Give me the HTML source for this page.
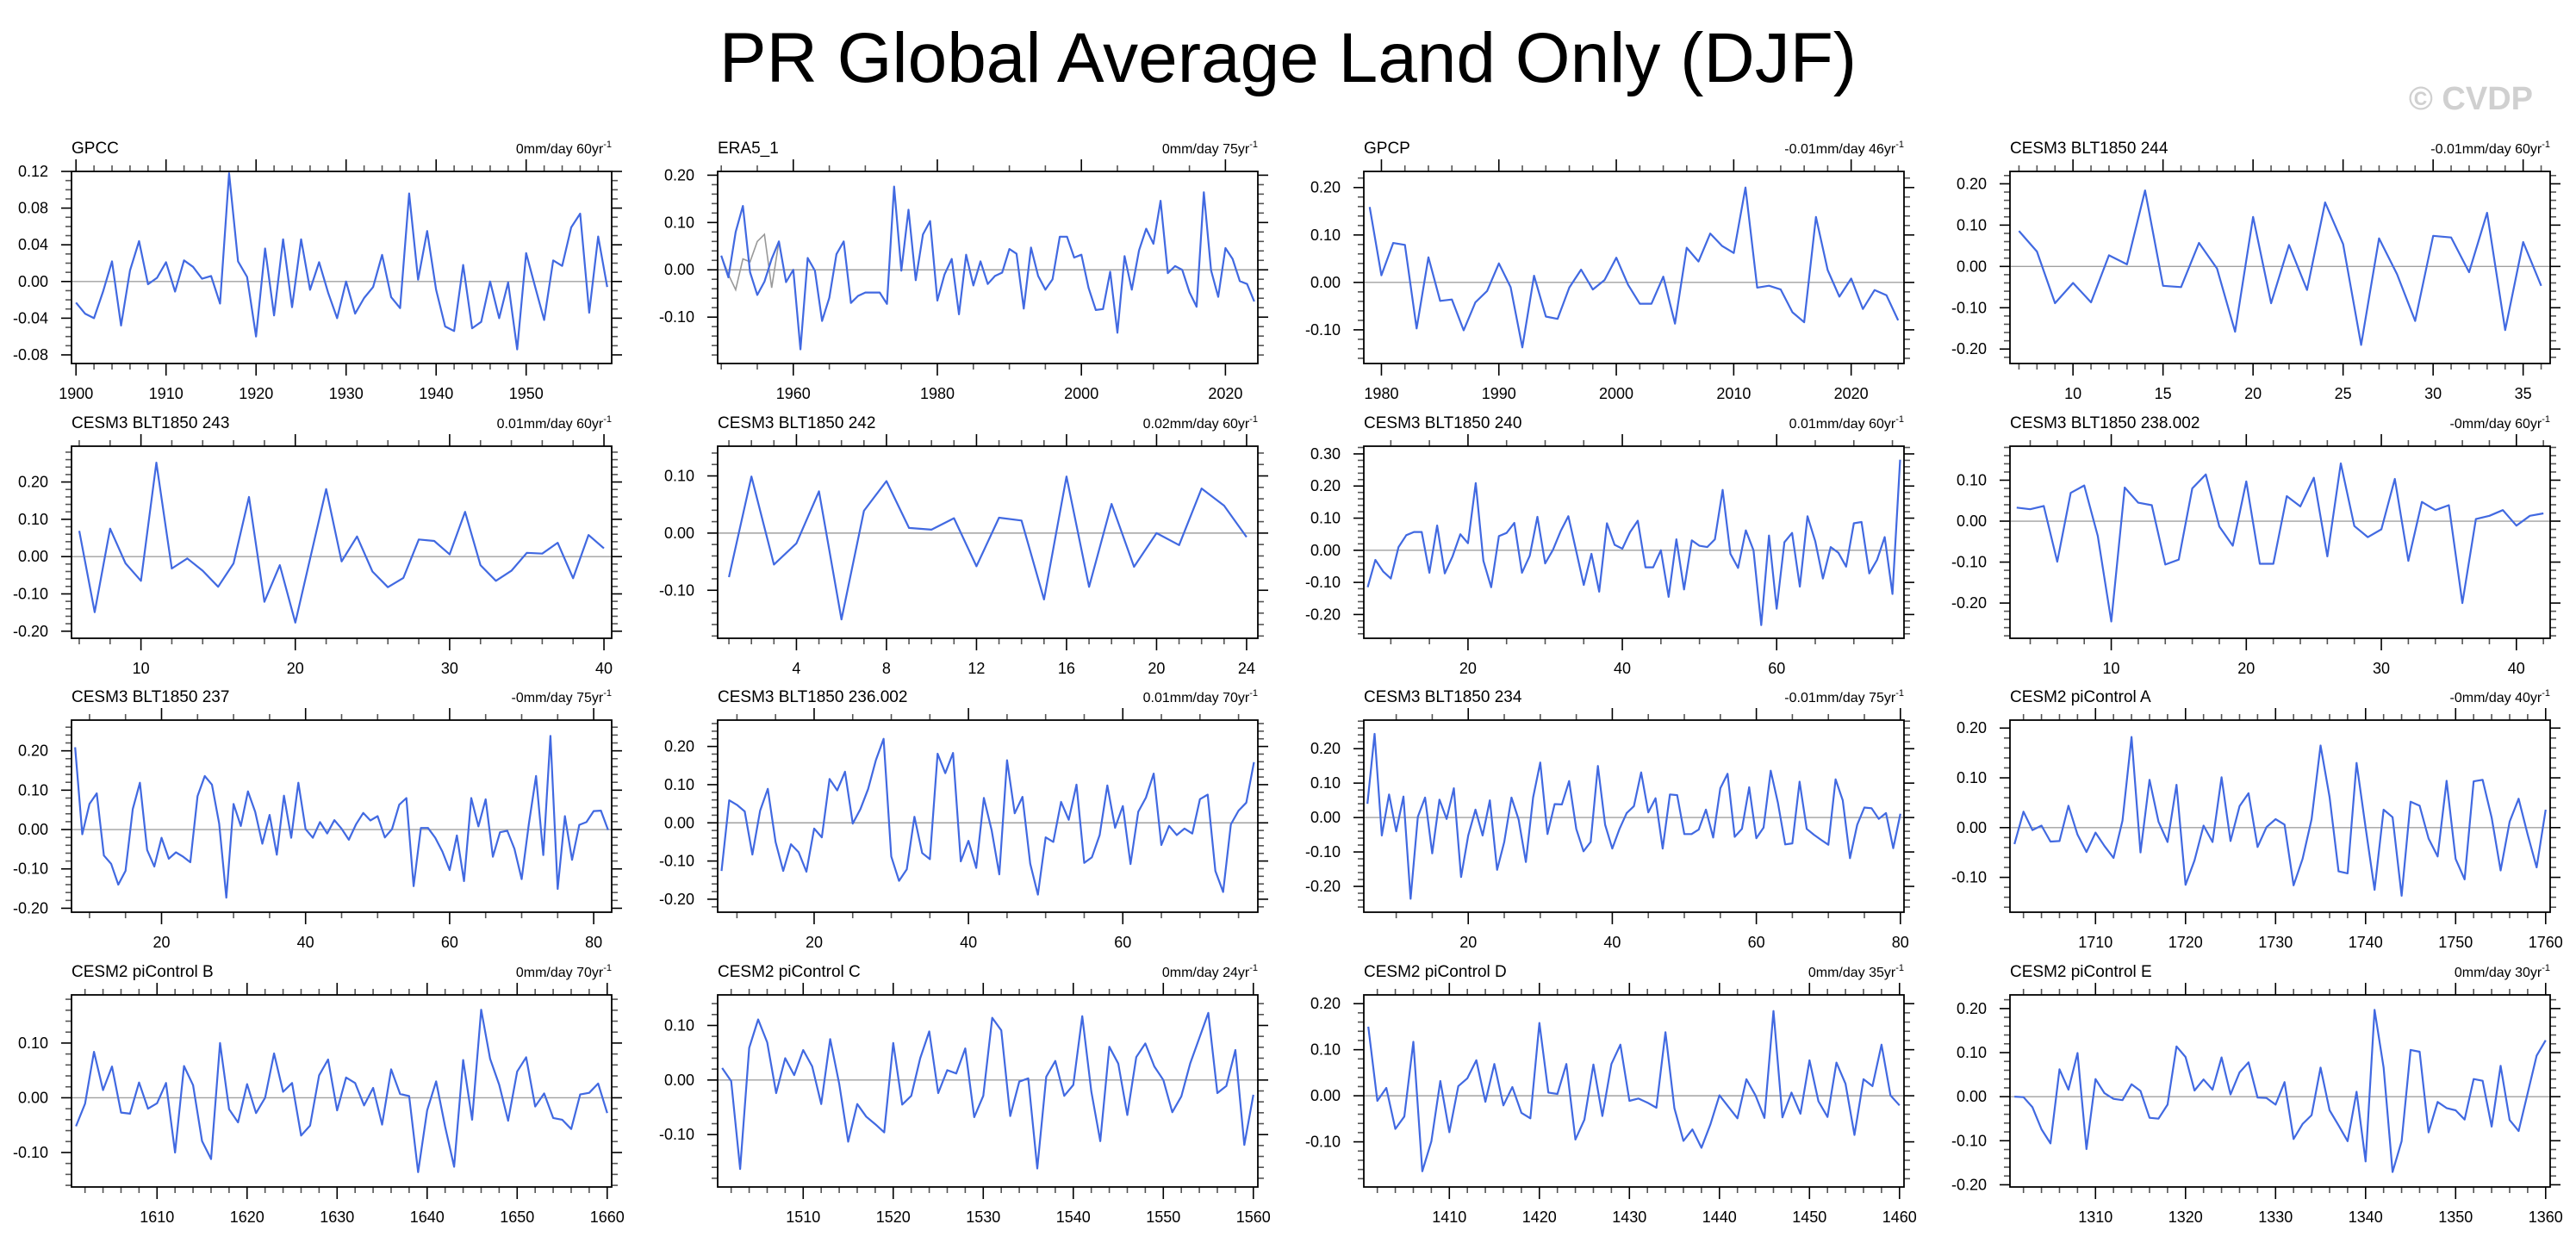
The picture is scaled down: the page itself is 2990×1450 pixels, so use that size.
<!DOCTYPE html>
<html><head><meta charset="utf-8">
<style>
html,body{margin:0;padding:0;background:#fff;}
svg{display:block;font-family:"Liberation Sans",Arial,sans-serif;}
</style></head>
<body>
<svg id="chart" width="2990" height="1450" viewBox="0 0 2990 1450" xmlns="http://www.w3.org/2000/svg">
<rect x="0" y="0" width="2990" height="1450" fill="#fff"/>
<text x="1495" y="95" text-anchor="middle" font-size="82" fill="#000">PR Global Average Land Only (DJF)</text>
<text x="2940" y="127" text-anchor="end" font-size="38" font-weight="bold" fill="#d0d0d0">© CVDP</text>
<g id="panels"></g>
</svg>
<script>
const panelTitles = ["GPCC","ERA5_1","GPCP","CESM3 BLT1850 244","CESM3 BLT1850 243","CESM3 BLT1850 242","CESM3 BLT1850 240","CESM3 BLT1850 238.002","CESM3 BLT1850 237","CESM3 BLT1850 236.002","CESM3 BLT1850 234","CESM2 piControl A","CESM2 piControl B","CESM2 piControl C","CESM2 piControl D","CESM2 piControl E"];
const panelTrends = ["0mm/day 60yr","0mm/day 75yr","-0.01mm/day 46yr","-0.01mm/day 60yr","0.01mm/day 60yr","0.02mm/day 60yr","0.01mm/day 60yr","-0mm/day 60yr","-0mm/day 75yr","0.01mm/day 70yr","-0.01mm/day 75yr","-0mm/day 40yr","0mm/day 70yr","0mm/day 24yr","0mm/day 35yr","0mm/day 30yr"];
const startYears = [1900,1950,1979,7,6,1,7,3,8,8,6,1701,1601,1501,1401,1301];

const gpccValues = [-0.023,-0.035,-0.040,-0.011,0.022,-0.048,0.012,0.044,-0.003,0.004,0.021,-0.011,0.023,0.016,0.003,0.006,-0.024,0.118,0.022,0.005,-0.060,0.036,-0.037,0.046,-0.028,0.046,-0.009,0.021,-0.012,-0.040,0.000,-0.035,-0.018,-0.006,0.029,-0.017,-0.029,0.096,0.002,0.055,-0.009,-0.049,-0.054,0.018,-0.051,-0.044,0.000,-0.040,-0.001,-0.074,0.031,-0.006,-0.042,0.023,0.017,0.059,0.074,-0.034,0.049,-0.006];
const era5Values = [0.03,-0.016,0.08,0.135,-0.005,-0.053,-0.025,0.023,0.06,-0.026,0.0,-0.168,0.025,-0.002,-0.108,-0.059,0.033,0.06,-0.07,-0.055,-0.048,-0.048,-0.048,-0.072,0.176,-0.002,0.127,-0.022,0.075,0.103,-0.065,-0.01,0.023,-0.094,0.032,-0.033,0.018,-0.03,-0.013,-0.006,0.044,0.034,-0.082,0.047,-0.013,-0.042,-0.02,0.07,0.07,0.026,0.032,-0.038,-0.085,-0.083,-0.004,-0.133,0.029,-0.042,0.041,0.087,0.055,0.146,-0.007,0.008,0.0,-0.047,-0.078,0.164,-0.001,-0.057,0.046,0.023,-0.024,-0.03,-0.067];
const era5GrayValues = [0.03,-0.01,-0.042,0.023,0.017,0.06,0.075,-0.038,0.06];
const gpcpValues = [0.159,0.015,0.083,0.079,-0.097,0.053,-0.039,-0.036,-0.101,-0.042,-0.018,0.04,-0.01,-0.137,0.014,-0.072,-0.077,-0.011,0.027,-0.015,0.005,0.052,-0.005,-0.045,-0.045,0.012,-0.087,0.073,0.044,0.103,0.077,0.062,0.2,-0.011,-0.007,-0.015,-0.063,-0.084,0.138,0.026,-0.03,0.008,-0.056,-0.016,-0.027,-0.08];
const cesm3_244Values = [0.086,0.036,-0.089,-0.04,-0.087,0.027,0.005,0.184,-0.047,-0.05,0.057,-0.005,-0.158,0.12,-0.089,0.052,-0.057,0.155,0.054,-0.19,0.068,-0.019,-0.132,0.074,0.07,-0.014,0.13,-0.154,0.059,-0.047];
const cesm3_243Values = [0.069,-0.149,0.075,-0.018,-0.065,0.252,-0.032,-0.005,-0.038,-0.081,-0.018,0.16,-0.121,-0.023,-0.177,0.002,0.181,-0.013,0.054,-0.04,-0.082,-0.057,0.046,0.042,0.006,0.12,-0.023,-0.065,-0.038,0.01,0.008,0.037,-0.058,0.058,0.022];
const cesm3_242Values = [-0.077,0.099,-0.055,-0.018,0.073,-0.151,0.039,0.091,0.009,0.006,0.026,-0.058,0.027,0.022,-0.116,0.099,-0.094,0.051,-0.059,0.0,-0.021,0.078,0.048,-0.007];
const cesm3_240Values = [-0.115,-0.03,-0.066,-0.088,0.01,0.047,0.057,0.057,-0.07,0.077,-0.072,-0.019,0.05,0.022,0.209,-0.033,-0.115,0.044,0.054,0.085,-0.07,-0.017,0.104,-0.041,0.001,0.059,0.106,0.0,-0.108,-0.011,-0.129,0.084,0.017,0.005,0.056,0.092,-0.053,-0.053,0.0,-0.145,0.034,-0.122,0.031,0.014,0.01,0.034,0.188,-0.011,-0.055,0.062,0.0,-0.233,0.046,-0.182,0.025,0.054,-0.113,0.106,0.028,-0.088,0.01,-0.008,-0.051,0.084,0.088,-0.072,-0.03,0.041,-0.136,0.282];
const cesm3_238Values = [0.033,0.029,0.037,-0.099,0.069,0.087,-0.036,-0.245,0.082,0.045,0.039,-0.106,-0.094,0.08,0.114,-0.013,-0.06,0.097,-0.104,-0.104,0.061,0.036,0.106,-0.086,0.141,-0.012,-0.039,-0.02,0.103,-0.097,0.047,0.027,0.039,-0.2,0.005,0.013,0.027,-0.011,0.013,0.019];
const cesm3_237Values = [0.209,-0.012,0.065,0.092,-0.066,-0.087,-0.14,-0.105,0.052,0.119,-0.052,-0.094,-0.021,-0.074,-0.058,-0.069,-0.083,0.085,0.136,0.114,0.015,-0.173,0.065,0.009,0.097,0.045,-0.036,0.037,-0.064,0.086,-0.021,0.119,0.001,-0.021,0.019,-0.01,0.024,0.002,-0.026,0.013,0.042,0.023,0.034,-0.02,0.001,0.063,0.08,-0.144,0.004,0.004,-0.021,-0.056,-0.103,-0.015,-0.131,0.08,0.008,0.077,-0.069,-0.007,-0.003,-0.049,-0.126,0.015,0.136,-0.065,0.238,-0.151,0.034,-0.077,0.012,0.019,0.047,0.048,-0.001];
const cesm3_236Values = [-0.126,0.059,0.047,0.03,-0.083,0.032,0.089,-0.05,-0.126,-0.056,-0.077,-0.128,-0.015,-0.038,0.115,0.085,0.134,-0.002,0.036,0.089,0.164,0.22,-0.088,-0.152,-0.122,0.016,-0.079,-0.095,0.181,0.13,0.183,-0.101,-0.047,-0.118,0.065,-0.019,-0.135,0.164,0.025,0.068,-0.107,-0.188,-0.038,-0.05,0.055,0.008,0.1,-0.105,-0.09,-0.032,0.098,-0.013,0.044,-0.108,0.029,0.066,0.129,-0.058,-0.008,-0.032,-0.015,-0.028,0.062,0.074,-0.126,-0.181,-0.004,0.032,0.053,0.159];
const cesm3_234Values = [0.04,0.243,-0.052,0.067,-0.04,0.061,-0.236,0.002,0.058,-0.104,0.052,-0.004,0.085,-0.173,-0.052,0.023,-0.052,0.05,-0.152,-0.071,0.058,-0.006,-0.129,0.058,0.16,-0.048,0.039,0.038,0.106,-0.033,-0.098,-0.071,0.15,-0.021,-0.09,-0.033,0.013,0.033,0.131,0.015,0.056,-0.09,0.067,0.065,-0.048,-0.048,-0.035,0.023,-0.058,0.085,0.127,-0.056,-0.033,0.088,-0.06,-0.029,0.136,0.042,-0.078,-0.075,0.104,-0.033,-0.05,-0.065,-0.079,0.111,0.05,-0.118,-0.021,0.029,0.027,-0.004,0.013,-0.089,0.011];
const cesm2AValues = [-0.033,0.032,-0.005,0.004,-0.028,-0.027,0.044,-0.014,-0.049,-0.01,-0.037,-0.061,0.014,0.182,-0.05,0.096,0.012,-0.029,0.086,-0.115,-0.066,0.004,-0.029,0.101,-0.027,0.043,0.069,-0.039,0.001,0.017,0.006,-0.116,-0.063,0.017,0.165,0.061,-0.088,-0.092,0.13,0.0,-0.125,0.036,0.021,-0.137,0.052,0.044,-0.022,-0.058,0.094,-0.063,-0.104,0.093,0.096,0.02,-0.086,0.012,0.058,-0.014,-0.08,0.036];
const cesm2BValues = [-0.052,-0.011,0.084,0.014,0.057,-0.027,-0.029,0.028,-0.02,-0.01,0.027,-0.1,0.058,0.023,-0.079,-0.112,0.1,-0.021,-0.045,0.025,-0.028,0.0,0.081,0.011,0.027,-0.069,-0.051,0.041,0.07,-0.023,0.037,0.027,-0.014,0.018,-0.049,0.052,0.007,0.003,-0.136,-0.023,0.03,-0.053,-0.126,0.069,-0.04,0.161,0.071,0.024,-0.042,0.048,0.074,-0.016,0.008,-0.037,-0.04,-0.057,0.006,0.009,0.026,-0.028];
const cesm2CValues = [0.022,-0.002,-0.163,0.059,0.111,0.069,-0.024,0.04,0.009,0.055,0.025,-0.044,0.075,-0.007,-0.113,-0.044,-0.067,-0.081,-0.096,0.068,-0.045,-0.029,0.04,0.089,-0.024,0.018,0.012,0.058,-0.068,-0.029,0.114,0.091,-0.066,-0.003,0.003,-0.162,0.006,0.035,-0.029,-0.009,0.117,-0.021,-0.112,0.061,0.03,-0.064,0.042,0.067,0.025,0.0,-0.059,-0.03,0.031,0.077,0.123,-0.024,-0.011,0.055,-0.119,-0.027];
const cesm2DValues = [0.15,-0.011,0.017,-0.072,-0.045,0.117,-0.164,-0.099,0.032,-0.079,0.021,0.038,0.077,-0.013,0.069,-0.021,0.019,-0.037,-0.049,0.158,0.007,0.004,0.069,-0.095,-0.052,0.068,-0.044,0.069,0.111,-0.011,-0.006,-0.015,-0.026,0.138,-0.027,-0.098,-0.073,-0.113,-0.062,0.001,-0.024,-0.049,0.036,0.001,-0.048,0.184,-0.047,0.007,-0.039,0.077,-0.012,-0.046,0.072,0.026,-0.085,0.036,0.021,0.111,0.001,-0.021];
const cesm2EValues = [0.0,-0.001,-0.024,-0.074,-0.106,0.062,0.016,0.099,-0.119,0.04,0.008,-0.005,-0.008,0.028,0.013,-0.048,-0.05,-0.018,0.114,0.09,0.014,0.039,0.016,0.089,0.005,0.055,0.078,-0.002,-0.003,-0.018,0.033,-0.096,-0.062,-0.042,0.066,-0.031,-0.065,-0.101,0.011,-0.147,0.197,0.066,-0.171,-0.101,0.106,0.102,-0.081,-0.012,-0.026,-0.031,-0.052,0.04,0.036,-0.068,0.07,-0.053,-0.078,0.008,0.093,0.128];

const seriesList = [gpccValues,era5Values,gpcpValues,cesm3_244Values,cesm3_243Values,cesm3_242Values,cesm3_240Values,cesm3_238Values,cesm3_237Values,cesm3_236Values,cesm3_234Values,cesm2AValues,cesm2BValues,cesm2CValues,cesm2DValues,cesm2EValues];

const axisCfg = [
 {y0:-0.0894,y1:0.12,ym:0.04,yn:0.01,xm:10,xn:2},
 {y0:-0.198,y1:0.208,ym:0.1,yn:0.02,xm:20,xn:5},
 {y0:-0.171,y1:0.234,ym:0.1,yn:0.02,xm:10,xn:2},
 {y0:-0.235,y1:0.23,ym:0.1,yn:0.02,xm:5,xn:1},
 {y0:-0.219,y1:0.296,ym:0.1,yn:0.02,xm:10,xn:2},
 {y0:-0.184,y1:0.152,ym:0.1,yn:0.02,xm:4,xn:1},
 {y0:-0.274,y1:0.324,ym:0.1,yn:0.02,xm:20,xn:5},
 {y0:-0.286,y1:0.183,ym:0.1,yn:0.02,xm:10,xn:2},
 {y0:-0.21,y1:0.278,ym:0.1,yn:0.02,xm:20,xn:5},
 {y0:-0.234,y1:0.269,ym:0.1,yn:0.02,xm:20,xn:5},
 {y0:-0.275,y1:0.283,ym:0.1,yn:0.02,xm:20,xn:5},
 {y0:-0.17,y1:0.216,ym:0.1,yn:0.02,xm:10,xn:2},
 {y0:-0.163,y1:0.188,ym:0.1,yn:0.02,xm:10,xn:2},
 {y0:-0.196,y1:0.156,ym:0.1,yn:0.02,xm:10,xn:2},
 {y0:-0.198,y1:0.219,ym:0.1,yn:0.02,xm:10,xn:2},
 {y0:-0.205,y1:0.231,ym:0.1,yn:0.02,xm:10,xn:2}
];

const NS = "http://www.w3.org/2000/svg";
const COLX = [83,833,1583,2333], ROWY = [199,518,836,1155], PW = 627, PH = 223;
const root = document.getElementById('panels');
function mk(tag, attrs, parent){ const e=document.createElementNS(NS,tag); for(const k in attrs) e.setAttribute(k,attrs[k]); parent.appendChild(e); return e; }

for(let p=0;p<16;p++){
  const L = COLX[p%4], T = ROWY[Math.floor(p/4)];
  const vals = seriesList[p], cfg = axisCfg[p];
  const s0 = startYears[p], xa = s0-0.5, xb = s0+vals.length-1+0.5;
  const xs = v => L + (v-xa)/(xb-xa)*PW;
  const ys = v => T + PH - (v-cfg.y0)/(cfg.y1-cfg.y0)*PH;
  const g = mk('g',{},root);
  
  

  const t1 = mk('text',{x:L,y:T-21,'font-size':19,fill:'#000'},g);
  t1.textContent = panelTitles[p];
  
  
  const t2 = mk('text',{x:L+PW,y:T-21,'font-size':16,fill:'#000','text-anchor':'end'},g);
  t2.textContent = panelTrends[p];
  const sup = mk('tspan',{'font-size':11,dy:-7},t2); sup.textContent='-1';
  
  

  const eps=1e-6;
  for(let k=Math.ceil((cfg.y0-eps)/cfg.yn); k*cfg.yn<=cfg.y1+eps; k++){
    const v=k*cfg.yn, y=ys(v);
    const isMaj = Math.abs(Math.round(v/cfg.ym)*cfg.ym - v) < 1e-6;
    const len = isMaj?12:7;
    const a = mk('line',{x1:L-len,x2:L,y1:y,y2:y,stroke:isMaj?'#000':'#555','stroke-width':1.6},g);
    
    
    mk('line',{x1:L+PW,x2:L+PW+len,y1:y,y2:y,stroke:isMaj?'#000':'#555','stroke-width':1.6},g);
    if(isMaj){
      const lb = mk('text',{x:L-27,y:y+6,'font-size':18,'text-anchor':'end',fill:'#000'},g);
      let s=(Math.round(v/cfg.ym)*cfg.ym).toFixed(2); if(s==='-0.00') s='0.00';
      lb.textContent=s;
      
      
    }
  }
  for(let k=Math.ceil(xa/cfg.xn); k*cfg.xn<=xb; k++){
    const v=k*cfg.xn, x=xs(v);
    const isMaj = v % cfg.xm === 0;
    const len = isMaj?14:7;
    const a = mk('line',{x1:x,x2:x,y1:T+PH,y2:T+PH+len,stroke:isMaj?'#000':'#555','stroke-width':1.6},g);
    
    
    mk('line',{x1:x,x2:x,y1:T-len,y2:T,stroke:isMaj?'#000':'#555','stroke-width':1.6},g);
    if(isMaj){
      const lb = mk('text',{x:x,y:T+PH+41,'font-size':18,'text-anchor':'middle',fill:'#000'},g);
      lb.textContent=String(v);
      
      
    }
  }
  const z = mk('line',{x1:L,x2:L+PW,y1:ys(0),y2:ys(0),stroke:'#a0a0a0','stroke-width':1.4},g);
  
  
  if(p===1){
    const gp = era5GrayValues.map((v,i)=>xs(s0+i).toFixed(1)+','+ys(v).toFixed(1)).join(' ');
    const gl = mk('polyline',{points:gp,fill:'none',stroke:'#999','stroke-width':1.6},g);
    
    
  }
  const pts = vals.map((v,i)=>xs(s0+i).toFixed(1)+','+ys(v).toFixed(1)).join(' ');
  const line = mk('polyline',{points:pts,fill:'none',stroke:'#4169e1','stroke-width':2.2,'stroke-linejoin':'round'},g);
  
  
  const box = mk('rect',{x:L,y:T,width:PW,height:PH,fill:'none',stroke:'#000','stroke-width':1.8},g);
  
  
}
</script>
</body></html>
